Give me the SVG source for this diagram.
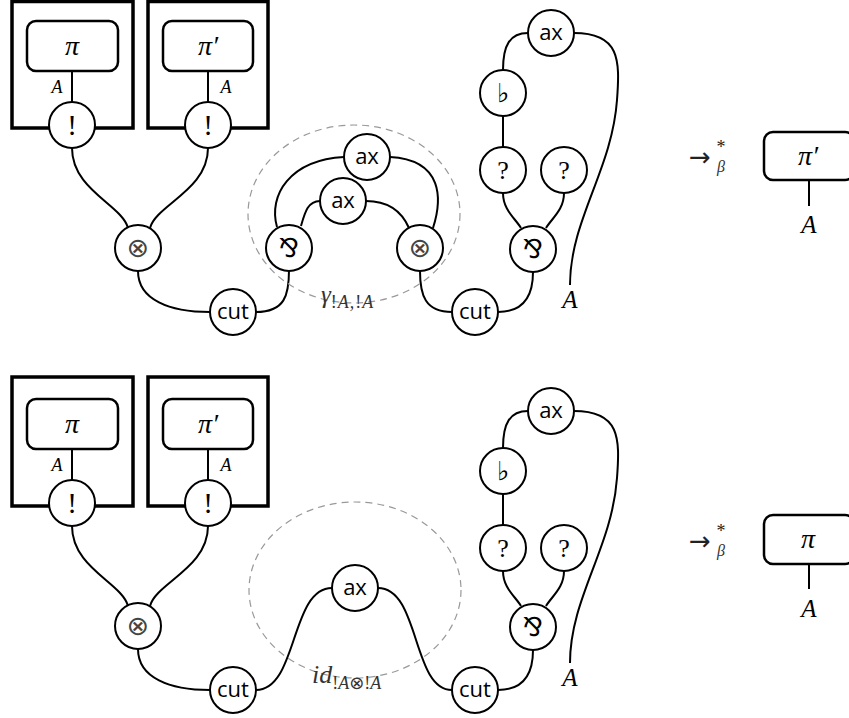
<svg xmlns="http://www.w3.org/2000/svg" width="849" height="718" viewBox="0 0 849 718">
<style>
.box{fill:none;stroke:#000;stroke-width:3.5}
.pf{fill:#fff;stroke:#000;stroke-width:2.5}
.n{fill:#fff;stroke:#000;stroke-width:2}
.w{fill:none;stroke:#000;stroke-width:2}
.d{fill:none;stroke:#999;stroke-width:1.2;stroke-dasharray:7 5}
.sans{font-family:"Open Sans","DejaVu Sans",sans-serif;font-size:22px;text-anchor:middle;fill:#000}
.ser{font-family:"Liberation Serif","DejaVu Serif",serif;text-anchor:middle;fill:#000}
.mi{font-family:"Liberation Serif","DejaVu Serif",serif;font-style:italic;fill:#000}
.sym{font-family:"DejaVu Sans",sans-serif;text-anchor:middle;fill:#000}
</style>
<defs>
<g id="bang"><circle class="n" r="23"/><text class="ser" y="10" style="font-size:29px">!</text></g>
<g id="tens"><circle class="n" r="23"/><text class="sym" y="9" style="font-size:27px;fill:#444">⊗</text></g>
<g id="par"><circle class="n" r="23"/><text class="sym" y="9" style="font-size:26px">⅋</text></g>
<g id="ax"><circle class="n" r="23"/><text class="sans" y="7">ax</text></g>
<g id="cut"><circle class="n" r="23"/><text class="sans" y="7">cut</text></g>
<g id="q"><circle class="n" r="23"/><text class="ser" y="9" style="font-size:26px">?</text></g>
<g id="flat"><circle class="n" r="23"/><text class="sym" y="9" style="font-size:26px">♭︎</text></g>
</defs>

<!-- ============ TOP ============ -->
<g id="connectors-top">
<path class="w" d="M72,71 V102"/>
<path class="w" d="M208,71 V102"/>
<path class="w" d="M72,148 C72,190 122,205 128,228"/>
<path class="w" d="M208,148 C208,190 156,205 150,228"/>
<path class="w" d="M138,271 C138,300 170,312 210,312"/>
<path class="w" d="M256,312 C285,312 289,295 289,270"/>
<path class="w" d="M420,271 C420,295 425,312 452,312"/>
<path class="w" d="M344,157 C290,160 268,195 277,227"/>
<path class="w" d="M390,157 C444,160 442,200 433,228"/>
<path class="w" d="M320,201 C308,201 305,212 301,226"/>
<path class="w" d="M366,201 C390,201 402,212 409,228"/>
<path class="w" d="M528,33 C510,33 503,45 503,70"/>
<path class="w" d="M574,33 C620,33 620,60 617,100 C612,170 570,220 570,285"/>
<path class="w" d="M503,116 V147"/>
<path class="w" d="M503,193 C503,210 515,218 521,228"/>
<path class="w" d="M564,193 C564,210 552,218 546,228"/>
<path class="w" d="M533,272 C533,300 520,312 498,312"/>
<path class="w" d="M809,180 V206"/>
</g>
<ellipse class="d" cx="354" cy="214" rx="106" ry="89"/>

<g id="box1-top">
<rect class="box" x="12" y="1.5" width="121" height="126.5"/>
<rect class="pf" x="27" y="21" width="91" height="50" rx="9"/>
<text class="mi" x="72" y="55" style="font-size:28px" text-anchor="middle">π</text>
<text class="mi" x="57" y="93" style="font-size:18px" text-anchor="middle">A</text>
<use href="#bang" x="72" y="125"/>
</g>
<g id="box2-top">
<rect class="box" x="148" y="1.5" width="120" height="126.5"/>
<rect class="pf" x="163" y="21" width="90" height="50" rx="9"/>
<text class="mi" x="208" y="55" style="font-size:28px" text-anchor="middle">π′</text>
<text class="mi" x="226" y="93" style="font-size:18px" text-anchor="middle">A</text>
<use href="#bang" x="208" y="125"/>
</g>
<g id="tensor1-top"><use href="#tens" x="138" y="248"/></g>
<g id="cut1-top"><use href="#cut" x="233" y="312"/></g>
<g id="par1-top"><use href="#par" x="289" y="248"/></g>
<g id="tensor2-top"><use href="#tens" x="420" y="248"/></g>
<g id="ax1-top"><use href="#ax" x="367" y="157"/></g>
<g id="ax2-top"><use href="#ax" x="343" y="201"/></g>
<g id="cut2-top"><use href="#cut" x="475" y="312"/></g>
<g id="ax3-top"><use href="#ax" x="551" y="33"/></g>
<g id="flat-top"><use href="#flat" x="503" y="93"/></g>
<g id="q1-top"><use href="#q" x="503" y="170"/></g>
<g id="q2-top"><use href="#q" x="564" y="170"/></g>
<g id="par2-top"><use href="#par" x="533" y="249"/></g>
<g id="label-gamma"><text class="mi" x="321" y="303" style="font-size:25px;fill:#333">γ<tspan dy="5" style="font-size:18px" letter-spacing="1"><tspan style="font-style:normal">!</tspan>A,<tspan style="font-style:normal">!</tspan>A</tspan></text></g>
<text class="mi" x="570" y="308" style="font-size:25px" text-anchor="middle">A</text>

<g id="result-top">
<text class="sym" x="700" y="166" style="font-size:26px;fill:#222">→</text>
<text class="ser" x="721" y="153" style="font-size:18px;fill:#222">*</text>
<text class="mi" x="721" y="172" style="font-size:16px;fill:#333" text-anchor="middle">β</text>
<rect class="pf" x="764" y="132" width="90" height="48" rx="9"/>
<text class="mi" x="808" y="165" style="font-size:28px" text-anchor="middle">π′</text>
<text class="mi" x="809" y="233" style="font-size:25px" text-anchor="middle">A</text>
</g>

<!-- ============ BOTTOM ============ -->
<g id="connectors-bottom">
<path class="w" d="M72,449 V480"/>
<path class="w" d="M208,449 V480"/>
<path class="w" d="M72,526 C72,568 122,583 128,606"/>
<path class="w" d="M208,526 C208,568 156,583 150,606"/>
<path class="w" d="M138,649 C138,678 170,690 210,690"/>
<path class="w" d="M256,690 C298,690 290,588 332,588"/>
<path class="w" d="M378,588 C420,588 412,690 452,690"/>
<path class="w" d="M528,411 C510,411 503,423 503,448"/>
<path class="w" d="M574,411 C620,411 620,438 617,478 C612,548 570,598 570,663"/>
<path class="w" d="M503,494 V525"/>
<path class="w" d="M503,571 C503,588 515,596 521,606"/>
<path class="w" d="M564,571 C564,588 552,596 546,606"/>
<path class="w" d="M533,650 C533,678 520,690 498,690"/>
<path class="w" d="M809,564 V589"/>
</g>
<ellipse class="d" cx="355" cy="590" rx="106" ry="88"/>

<g id="box1-bottom">
<rect class="box" x="12" y="377" width="121" height="129"/>
<rect class="pf" x="27" y="399" width="91" height="50" rx="9"/>
<text class="mi" x="72" y="433" style="font-size:28px" text-anchor="middle">π</text>
<text class="mi" x="57" y="471" style="font-size:18px" text-anchor="middle">A</text>
<use href="#bang" x="72" y="503"/>
</g>
<g id="box2-bottom">
<rect class="box" x="148" y="377" width="120" height="129"/>
<rect class="pf" x="163" y="399" width="90" height="50" rx="9"/>
<text class="mi" x="208" y="433" style="font-size:28px" text-anchor="middle">π′</text>
<text class="mi" x="226" y="471" style="font-size:18px" text-anchor="middle">A</text>
<use href="#bang" x="208" y="503"/>
</g>
<g id="tensor1-bottom"><use href="#tens" x="138" y="626"/></g>
<g id="cut1-bottom"><use href="#cut" x="233" y="690"/></g>
<g id="ax1-bottom"><use href="#ax" x="355" y="588"/></g>
<g id="cut2-bottom"><use href="#cut" x="475" y="690"/></g>
<g id="ax3-bottom"><use href="#ax" x="551" y="411"/></g>
<g id="flat-bottom"><use href="#flat" x="503" y="471"/></g>
<g id="q1-bottom"><use href="#q" x="503" y="548"/></g>
<g id="q2-bottom"><use href="#q" x="564" y="548"/></g>
<g id="par2-bottom"><use href="#par" x="533" y="627"/></g>
<g id="label-id"><text class="mi" x="312" y="683" style="font-size:26px;fill:#333">id<tspan dy="6" style="font-size:18px"><tspan style="font-style:normal">!</tspan>A<tspan style="font-style:normal;font-family:'DejaVu Sans'">⊗</tspan><tspan style="font-style:normal">!</tspan>A</tspan></text></g>
<text class="mi" x="570" y="686" style="font-size:25px" text-anchor="middle">A</text>

<g id="result-bottom">
<text class="sym" x="700" y="550" style="font-size:26px;fill:#222">→</text>
<text class="ser" x="721" y="537" style="font-size:18px;fill:#222">*</text>
<text class="mi" x="721" y="556" style="font-size:16px;fill:#333" text-anchor="middle">β</text>
<rect class="pf" x="764" y="515" width="90" height="49" rx="9"/>
<text class="mi" x="808" y="548" style="font-size:28px" text-anchor="middle">π</text>
<text class="mi" x="809" y="617" style="font-size:25px" text-anchor="middle">A</text>
</g>
</svg>
